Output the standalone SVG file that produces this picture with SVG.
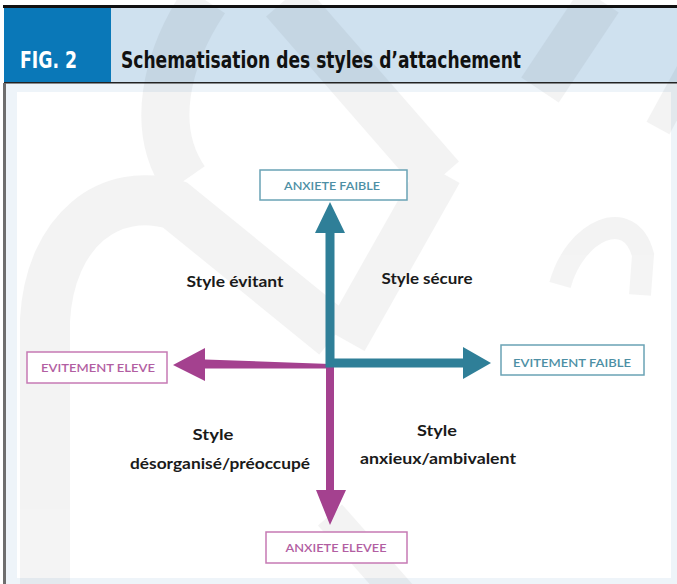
<svg xmlns="http://www.w3.org/2000/svg" width="677" height="584" viewBox="0 0 677 584">
<style>
.lbl{font-family:"Lato","Open Sans","Liberation Sans",sans-serif;font-size:15px;font-weight:bold;fill:#1a1a1a;text-anchor:middle}
.box{font-family:"Lato","Open Sans","Liberation Sans",sans-serif;font-size:11px;font-weight:600;text-anchor:middle}
.teal{fill:#2f7f98}
.tt{fill:#4d8fa5}
.mag{fill:#a4418f}
.mt{fill:#b25ea2}
.tbox{fill:#ffffff;stroke:#6aa3b5;stroke-width:1.5}
.mbox{fill:#ffffff;stroke:#c67ab4;stroke-width:1.5}
.wm{fill:none;stroke:#000000;stroke-linecap:butt}
</style>
<rect x="0" y="0" width="677" height="584" fill="#ffffff"/>
<!-- header -->
<rect x="4" y="8" width="673" height="75" fill="#cfe1ef"/>
<!-- body frame -->
<rect x="4" y="83" width="673" height="501" fill="#eef4f9"/>
<rect x="17" y="92" width="654" height="486" fill="#ffffff"/>
<!-- watermark -->
<g id="watermark" opacity="0.045">
<path class="wm" stroke-width="50" d="M 45 584 L 45 320 C 50 230 110 185 175 205 L 335 335"/>
<path class="wm" stroke-width="48" d="M 205 0 C 165 60 150 130 185 180"/>
<path class="wm" stroke-width="50" d="M 285 0 L 440 178"/>
<path class="wm" stroke-width="45" d="M 440 172 L 345 340"/>
<path class="wm" stroke-width="45" d="M 600 0 L 540 90"/>
<path class="wm" stroke-width="26" d="M 695 60 L 658 128"/>
<path class="wm" stroke-width="22" d="M 560 285 C 575 230 630 205 643 255 L 640 295"/>
<path class="wm" stroke-width="32" d="M 330 515 L 405 600"/>
</g>
<rect x="4" y="8" width="107" height="75" fill="#0a78b8"/>
<rect x="3" y="5" width="674" height="3" fill="#111111"/>
<rect x="4" y="82" width="673" height="1.5" fill="#222222"/>
<rect x="3" y="83" width="3" height="501" fill="#6e6e6e"/>
<g id="header-text">
<text x="20" y="68" font-family="DejaVu Sans Condensed,DejaVu Sans,sans-serif" font-stretch="condensed" font-weight="bold" font-size="23" fill="#ffffff" textLength="57" lengthAdjust="spacingAndGlyphs">FIG. 2</text>
<text x="121" y="68" font-family="DejaVu Sans Condensed,DejaVu Sans,sans-serif" font-stretch="condensed" font-weight="bold" font-size="23" fill="#111111" textLength="400" lengthAdjust="spacingAndGlyphs">Schematisation des styles d’attachement</text>
</g>
<!-- connectors -->
<g id="connectors">
<polygon class="mag" points="330,364 205,359.5 205,348 173,365 205,381 205,368.5 326,368.5"/>
<polygon class="mag" points="326,363 334,363 334,490 346,490 330,525 316,490 326,490"/>
<polygon class="teal" points="325.5,367.5 325.5,233 315,233 330,202 345,233 334.5,233 334.5,358.5 463,358.5 463,347 491,363 463,379 463,367.5"/>
</g>
<g id="node-anxiete-faible">
<rect class="tbox" x="260" y="170" width="147" height="30"/>
<text class="box tt" x="332" y="190" textLength="96" lengthAdjust="spacingAndGlyphs">ANXIETE FAIBLE</text>
</g>
<g id="node-evitement-faible">
<rect class="tbox" x="501" y="345" width="143" height="30"/>
<text class="box tt" x="572" y="367" textLength="118" lengthAdjust="spacingAndGlyphs">EVITEMENT FAIBLE</text>
</g>
<g id="node-evitement-eleve">
<rect class="mbox" x="27" y="352" width="140" height="31"/>
<text class="box mt" x="98" y="372" textLength="114" lengthAdjust="spacingAndGlyphs">EVITEMENT ELEVE</text>
</g>
<g id="node-anxiete-elevee">
<rect class="mbox" x="266" y="532" width="141" height="31"/>
<text class="box mt" x="336" y="552" textLength="101" lengthAdjust="spacingAndGlyphs">ANXIETE ELEVEE</text>
</g>
<g id="node-style-evitant"><text class="lbl" x="235" y="287" textLength="97" lengthAdjust="spacingAndGlyphs">Style évitant</text></g>
<g id="node-style-secure"><text class="lbl" x="427" y="284" textLength="91" lengthAdjust="spacingAndGlyphs">Style sécure</text></g>
<g id="node-style-desorganise">
<text class="lbl" x="213" y="440" textLength="41" lengthAdjust="spacingAndGlyphs">Style</text>
<text class="lbl" x="220" y="469" textLength="180" lengthAdjust="spacingAndGlyphs">désorganisé/préoccupé</text>
</g>
<g id="node-style-anxieux">
<text class="lbl" x="437" y="436" textLength="40" lengthAdjust="spacingAndGlyphs">Style</text>
<text class="lbl" x="438" y="464" textLength="156" lengthAdjust="spacingAndGlyphs">anxieux/ambivalent</text>
</g>
</svg>
